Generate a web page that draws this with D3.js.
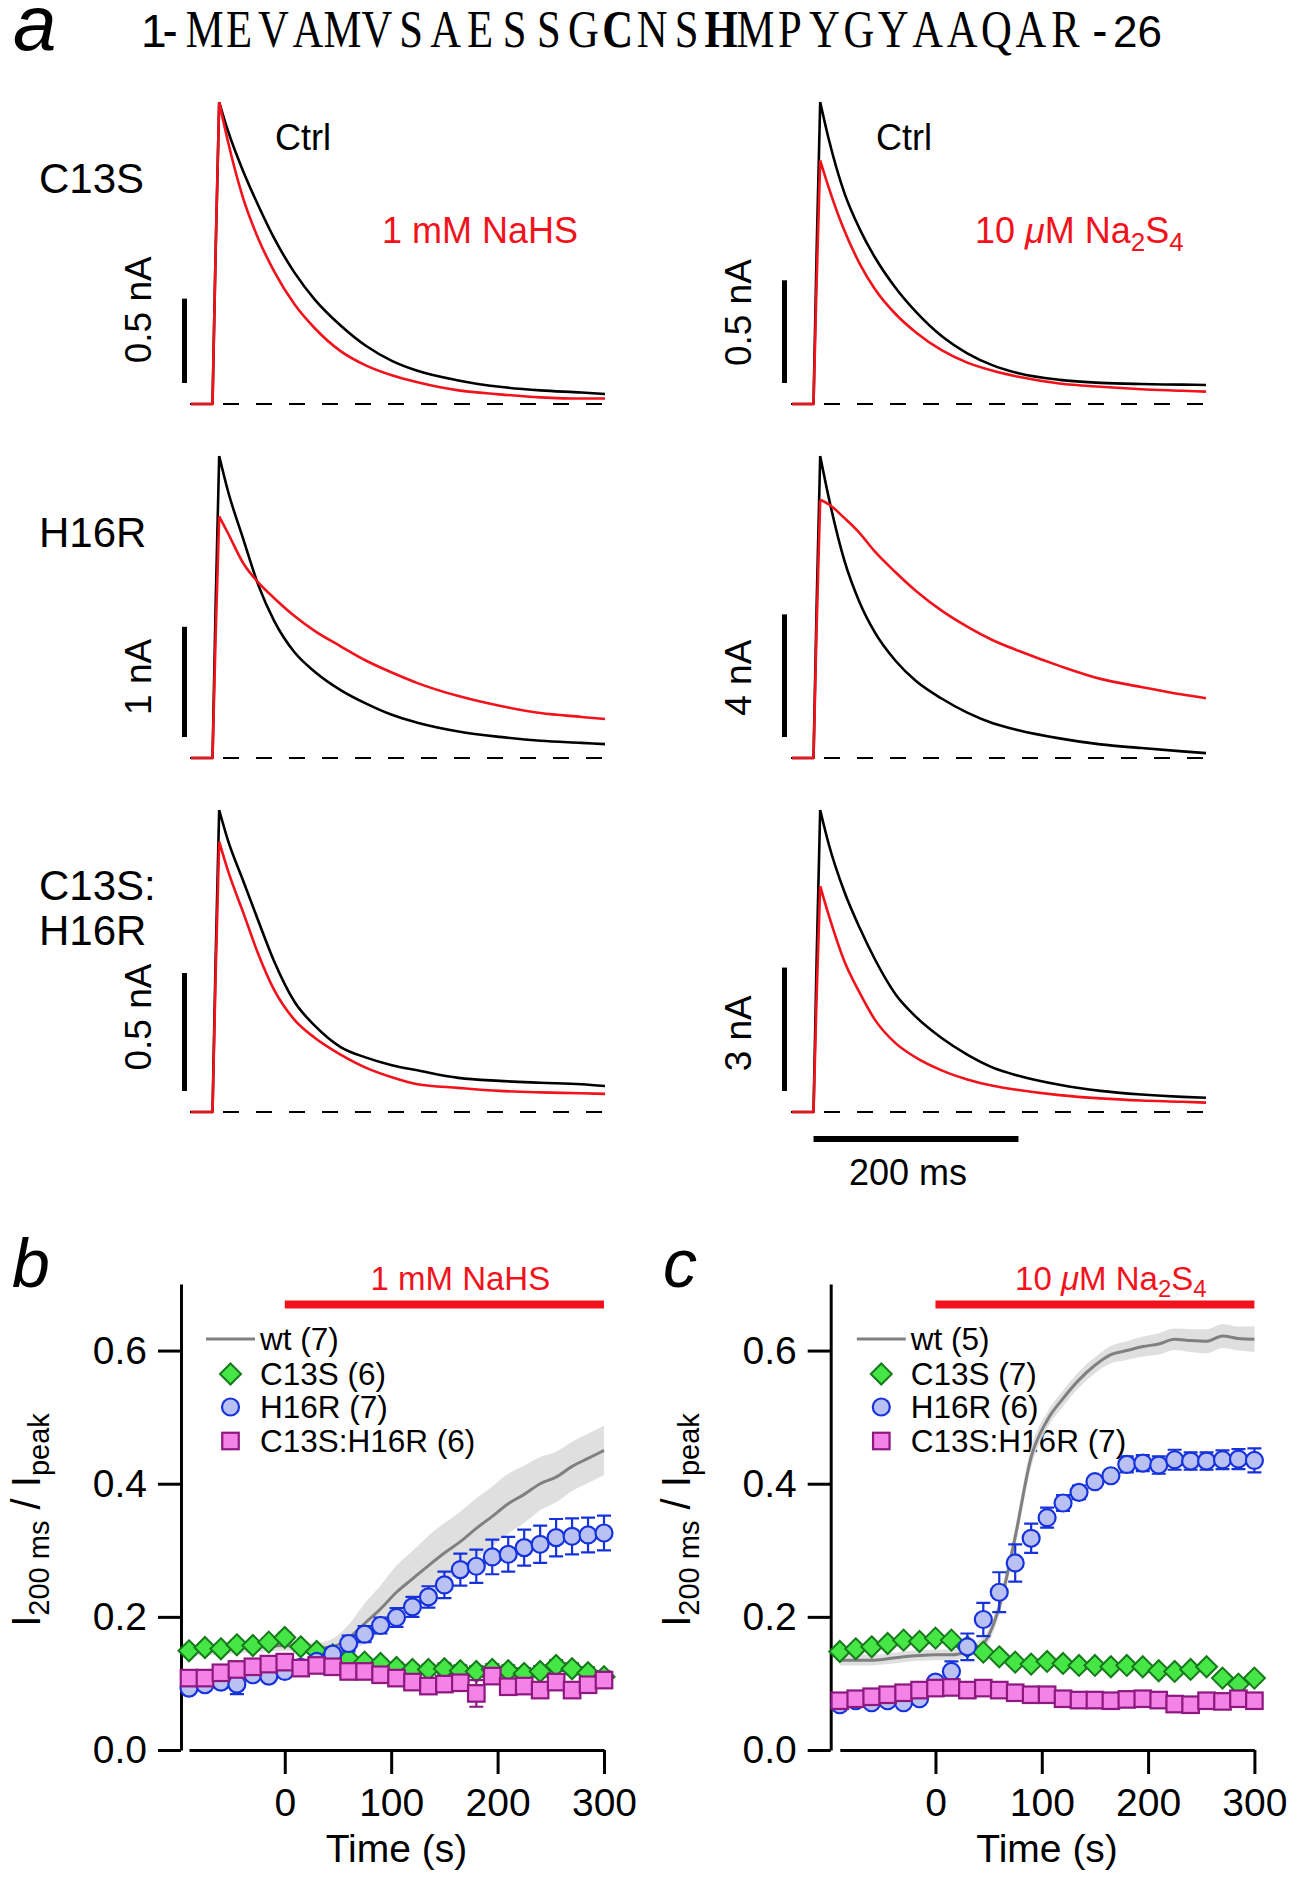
<!DOCTYPE html>
<html>
<head>
<meta charset="utf-8">
<script src="https://cdn.jsdelivr.net/npm/d3@7"></script>
<style>
  body { margin: 0; background: #fff; }
  svg { display: block; font-family: "Liberation Sans", Arial, Helvetica, sans-serif; }
</style>
</head>
<body>
<svg id="fig" width="1294" height="1879"></svg>
<script>
// ---------- panel a : current traces (fraction of control peak) ----------
const traceTimes = [-21, -3, 0, 3, 6.5, 15, 30, 45, 60, 80, 100, 125, 150, 175, 200, 240, 280, 320, 360, 383]; // ms

const c13sCtrlA = [0, 0, 0, 0.5, 1, 0.905, 0.77, 0.655, 0.55, 0.435, 0.345, 0.26, 0.192, 0.143, 0.11, 0.078, 0.057, 0.045, 0.038, 0.033];
const c13sNaHS  = [0, 0, 0, 0.5, 1, 0.87, 0.68, 0.545, 0.44, 0.33, 0.25, 0.175, 0.127, 0.095, 0.072, 0.045, 0.032, 0.022, 0.018, 0.018];
const c13sCtrlB = [0, 0, 0, 0.5, 1, 0.875, 0.70, 0.58, 0.485, 0.385, 0.305, 0.225, 0.168, 0.128, 0.102, 0.08, 0.07, 0.066, 0.064, 0.063];
const c13sNa2S4 = [0, 0, 0, 0.4, 0.807, 0.715, 0.575, 0.465, 0.38, 0.298, 0.237, 0.178, 0.137, 0.11, 0.09, 0.068, 0.057, 0.049, 0.044, 0.041];
const h16rCtrlA = [0, 0, 0, 0.5, 1, 0.885, 0.725, 0.57, 0.455, 0.35, 0.285, 0.225, 0.18, 0.143, 0.117, 0.088, 0.07, 0.057, 0.05, 0.046];
const h16rNaHS  = [0, 0, 0, 0.4, 0.80, 0.745, 0.645, 0.58, 0.53, 0.47, 0.42, 0.37, 0.322, 0.283, 0.248, 0.205, 0.173, 0.149, 0.136, 0.129];
const h16rCtrlB = [0, 0, 0, 0.5, 1, 0.86, 0.655, 0.515, 0.415, 0.322, 0.255, 0.197, 0.15, 0.115, 0.092, 0.065, 0.045, 0.033, 0.022, 0.016];
const h16rNa2S4 = [0, 0, 0, 0.43, 0.855, 0.84, 0.795, 0.745, 0.683, 0.615, 0.553, 0.488, 0.435, 0.39, 0.355, 0.305, 0.262, 0.235, 0.21, 0.198];
const dblCtrlA  = [0, 0, 0, 0.5, 1, 0.90, 0.765, 0.63, 0.50, 0.365, 0.285, 0.215, 0.18, 0.155, 0.138, 0.113, 0.103, 0.097, 0.092, 0.086];
const dblNaHS   = [0, 0, 0, 0.45, 0.895, 0.80, 0.66, 0.52, 0.405, 0.305, 0.245, 0.19, 0.146, 0.115, 0.092, 0.08, 0.07, 0.065, 0.062, 0.06];
const dblCtrlB  = [0, 0, 0, 0.5, 1, 0.885, 0.73, 0.61, 0.505, 0.39, 0.315, 0.245, 0.19, 0.147, 0.12, 0.09, 0.07, 0.058, 0.05, 0.047];
const dblNa2S4  = [0, 0, 0, 0.38, 0.748, 0.65, 0.50, 0.395, 0.305, 0.228, 0.18, 0.138, 0.108, 0.087, 0.073, 0.056, 0.045, 0.038, 0.034, 0.031];

const rowNames = [["C13S"], ["H16R"], ["C13S:", "H16R"]];
const ctrlPeakNA = [[1.79, 1.47], [2.74, 9.85], [1.28, 7.34]];
const scaleBarNA = [[0.5, 0.5], [1, 4], [0.5, 3]];
const scaleBarLabels = [["0.5 nA", "0.5 nA"], ["1 nA", "4 nA"], ["0.5 nA", "3 nA"]];
const timeBarMs = 200;

const seqResidues = "-MEVAMVSAESSGCNSHMPYGYAAQAR-".split("");
const boldResidues = [13, 16];

// ---------- panels b, c : I200ms / Ipeak over time ----------
const timeS = [-90, -75, -60, -45, -30, -15, 0, 15, 30, 45, 60, 75, 90, 105, 120, 135, 150, 165, 180, 195, 210, 225, 240, 255, 270, 285, 300];

const wtB      = [.150, .150, .152, .153, .155, .156, .157, .155, .153, .155, .168, .19, .212, .237, .257, .277, .296, .313, .333, .351, .37, .384, .40, .41, .426, .438, .45];
const wtBSem   = [.008, .008, .008, .008, .008, .008, .008, .008, .008, .012, .02, .03, .035, .04, .042, .045, .045, .045, .045, .045, .045, .043, .04, .038, .037, .037, .037];
const c13sB    = [.149, .154, .152, .158, .157, .162, .169, .155, .148, .143, .137, .132, .13, .124, .121, .121, .122, .119, .118, .121, .119, .115, .118, .127, .122, .116, .11];
const c13sBSem = [.006, .006, .006, .006, .006, .006, .007, .006, .006, .006, .006, .006, .006, .007, .007, .007, .008, .008, .008, .008, .008, .008, .008, .008, .008, .008, .008];
const h16rB    = [.093, .098, .102, .099, .113, .111, .118, .124, .133, .144, .16, .174, .187, .199, .215, .23, .248, .271, .276, .29, .294, .304, .309, .319, .321, .323, .326];
const h16rBSem = [.007, .007, .007, .015, .007, .007, .007, .007, .007, .008, .012, .012, .012, .014, .015, .016, .02, .024, .025, .026, .026, .027, .028, .028, .027, .026, .026];
const dblB     = [.108, .108, .116, .121, .125, .129, .132, .123, .127, .125, .118, .118, .113, .108, .102, .096, .099, .101, .085, .111, .095, .096, .09, .102, .09, .098, .105];
const dblBSem  = [.008, .008, .008, .008, .008, .008, .008, .008, .008, .008, .008, .008, .008, .008, .008, .008, .008, .008, .02, .01, .008, .008, .008, .008, .008, .008, .008];

const wtC      = [.135, .135, .135, .137, .14, .142, .143, .143, .148, .16, .215, .32, .44, .495, .528, .556, .578, .594, .60, .606, .61, .617, .615, .614, .622, .618, .617];
const wtCSem   = [.008, .008, .008, .008, .008, .008, .008, .008, .008, .01, .012, .015, .015, .012, .012, .012, .012, .013, .014, .015, .016, .016, .017, .018, .018, .018, .019];
const c13sC    = [.148, .152, .155, .16, .165, .163, .168, .165, .155, .147, .14, .132, .129, .133, .13, .127, .127, .125, .127, .125, .119, .118, .121, .125, .108, .099, .108];
const c13sCSem = [.005, .005, .005, .005, .005, .005, .005, .005, .005, .005, .005, .005, .005, .005, .005, .005, .005, .005, .005, .005, .005, .005, .005, .005, .006, .006, .006];
const h16rC    = [.068, .074, .071, .074, .071, .077, .102, .118, .155, .196, .237, .281, .318, .349, .371, .387, .403, .412, .429, .431, .428, .436, .434, .434, .436, .437, .435];
const h16rCSem = [.005, .005, .005, .005, .005, .005, .006, .015, .02, .025, .03, .028, .022, .015, .012, .01, .008, .008, .012, .012, .013, .015, .013, .013, .014, .015, .018];
const dblC     = [.074, .077, .08, .083, .086, .09, .093, .094, .09, .093, .09, .086, .083, .083, .077, .075, .075, .074, .076, .077, .075, .069, .068, .074, .073, .077, .074];
const dblCSem  = [.005, .005, .005, .005, .005, .005, .005, .005, .005, .005, .005, .005, .005, .005, .005, .005, .005, .005, .005, .005, .005, .005, .005, .005, .005, .005, .005];

const legendB = ["wt (7)", "C13S (6)", "H16R (7)", "C13S:H16R (6)"];
const legendC = ["wt (5)", "C13S (7)", "H16R (6)", "C13S:H16R (7)"];

// ---------- drawing ----------
const RED = "#f2121b";
const svg = d3.select("#fig");

// header: panel letter + peptide sequence
svg.append("text").attr("x", 13).attr("y", 50)
  .attr("font-size", 78).attr("font-style", "italic").text("a");

svg.append("text").attr("x", 141).attr("y", 47).attr("font-size", 46).text("1");
// residues sit in equal cells, like a typewriter face
const cell = d3.scaleBand().domain(d3.range(seqResidues.length)).range([153, 1117]);
const squeeze = 0.82;
const seq = svg.append("text").attr("y", 47)
  .attr("transform", `scale(${squeeze},1)`)
  .attr("text-anchor", "middle")
  .attr("font-family", '"Liberation Serif", "DejaVu Serif", serif')
  .attr("font-size", 52);
seq.selectAll("tspan").data(seqResidues).join("tspan")
  .attr("x", (d, i) => (cell(i) + cell.bandwidth() / 2) / squeeze)
  .attr("font-weight", (d, i) => boldResidues.includes(i) ? "bold" : null)
  .text(d => d);
svg.append("text").attr("x", 1113).attr("y", 47).attr("font-size", 44).text("26");

// trace panels
const ctrlTraces = [[c13sCtrlA, c13sCtrlB], [h16rCtrlA, h16rCtrlB], [dblCtrlA, dblCtrlB]];
const drugTraces = [[c13sNaHS, c13sNa2S4], [h16rNaHS, h16rNa2S4], [dblNaHS, dblNa2S4]];
const colX = [[191, 605], [792, 1206]];
const barX = [184.5, 784.5];
const barLabelX = [151, 751];
const rowBase = [404, 758, 1112];
const traceH = 302;
const barLabelDy = [[-31, -19], [-5, 2], [-15, 4]];

// rise drawn straight, decay smoothed from the peak on
function tracePath(x, y, peak, vals) {
  const pts = traceTimes.map((t, i) => [x(t), y(vals[i] * peak)]);
  const k = d3.maxIndex(vals);
  return d3.line()(pts.slice(0, k + 1)) + d3.line().curve(d3.curveMonotoneX)(pts.slice(k));
}

rowNames.forEach((names, r) => {
  const rl = svg.append("text").attr("font-size", 42);
  names.forEach((n, k) => rl.append("tspan").attr("x", 39).attr("y", (r === 2 ? 900 : [193, 547][r]) + k * 45).text(n));

  [0, 1].forEach(c => {
    const peak = ctrlPeakNA[r][c];
    const x = d3.scaleLinear().domain([traceTimes[0], traceTimes[traceTimes.length - 1]]).range(colX[c]);
    const y = d3.scaleLinear().domain([0, peak]).range([rowBase[r], rowBase[r] - traceH]);
    const g = svg.append("g");

    g.append("line")
      .attr("x1", x.range()[0] - 1).attr("x2", x.range()[1])
      .attr("y1", y(0)).attr("y2", y(0))
      .attr("stroke", "#000").attr("stroke-width", 2).attr("stroke-dasharray", "16,17");

    g.append("path").attr("d", tracePath(x, y, peak, ctrlTraces[r][c]))
      .attr("fill", "none").attr("stroke", "#000").attr("stroke-width", 2.6).attr("stroke-linejoin", "round");
    g.append("path").attr("d", tracePath(x, y, peak, drugTraces[r][c]))
      .attr("fill", "none").attr("stroke", RED).attr("stroke-width", 2.6).attr("stroke-linejoin", "round");

    // vertical scale bar
    const barLen = y(0) - y(scaleBarNA[r][c]);
    const bBottom = y(0) - 21;
    g.append("line")
      .attr("x1", barX[c]).attr("x2", barX[c])
      .attr("y1", bBottom).attr("y2", bBottom - barLen)
      .attr("stroke", "#000").attr("stroke-width", 5);
    g.append("text")
      .attr("transform", `translate(${barLabelX[c]},${bBottom - barLen / 2 + barLabelDy[r][c]}) rotate(-90)`)
      .attr("text-anchor", "middle").attr("font-size", 37)
      .text(scaleBarLabels[r][c]);

    if (r === 0) {
      g.append("text").attr("x", colX[c][0] + 84).attr("y", 150).attr("font-size", 36).text("Ctrl");
      const dl = g.append("text").attr("x", colX[c][0] + (c === 0 ? 191 : 183)).attr("y", 243)
        .attr("font-size", 36).attr("fill", RED);
      if (c === 0) {
        dl.text("1 mM NaHS");
      } else {
        dl.append("tspan").text("10 ");
        dl.append("tspan").attr("font-style", "italic").text("\u03bc");
        dl.append("tspan").text("M Na");
        dl.append("tspan").attr("font-size", 26).attr("dy", 8).text("2");
        dl.append("tspan").attr("dy", -8).text("S");
        dl.append("tspan").attr("font-size", 26).attr("dy", 8).text("4");
      }
    }

    if (r === 2 && c === 1) {
      g.append("line")
        .attr("x1", x(0)).attr("x2", x(timeBarMs))
        .attr("y1", 1139).attr("y2", 1139)
        .attr("stroke", "#000").attr("stroke-width", 6);
      g.append("text").attr("x", (x(0) + x(timeBarMs)) / 2 - 8).attr("y", 1185)
        .attr("text-anchor", "middle").attr("font-size", 36).text(timeBarMs + " ms");
    }
  });
});

// summary panels
const series = [
  { key: "b", x0: 189, x1: 604, axisX: 181, letterX: 12, yLabX: 40,
    drug: "NaHS", wt: wtB, wtSem: wtBSem, c13s: c13sB, c13sSem: c13sBSem,
    h16r: h16rB, h16rSem: h16rBSem, dbl: dblB, dblSem: dblBSem, legend: legendB },
  { key: "c", x0: 839.8, x1: 1254.4, axisX: 830.7, letterX: 663, yLabX: 690,
    drug: "Na2S4", wt: wtC, wtSem: wtCSem, c13s: c13sC, c13sSem: c13sCSem,
    h16r: h16rC, h16rSem: h16rCSem, dbl: dblC, dblSem: dblCSem, legend: legendC }
];

const STY = {
  c13s: { fill: "#45e645", stroke: "#167a1c", shape: "diamond" },
  h16r: { fill: "#b9c0f2", stroke: "#1632dc", shape: "circle" },
  dbl:  { fill: "#f383e6", stroke: "#8e1780", shape: "square" }
};

function drawMarker(g, shape, cx, cy, sty) {
  if (shape === "diamond") {
    const h = 10.5;
    g.append("path").attr("d", `M${cx},${cy - h}L${cx + h},${cy}L${cx},${cy + h}L${cx - h},${cy}Z`)
      .attr("fill", sty.fill).attr("stroke", sty.stroke).attr("stroke-width", 2);
  } else if (shape === "circle") {
    g.append("circle").attr("cx", cx).attr("cy", cy).attr("r", 8.5)
      .attr("fill", sty.fill).attr("stroke", sty.stroke).attr("stroke-width", 2.2);
  } else {
    const s = 16.5;
    g.append("rect").attr("x", cx - s / 2).attr("y", cy - s / 2).attr("width", s).attr("height", s)
      .attr("fill", sty.fill).attr("stroke", sty.stroke).attr("stroke-width", 2.2);
  }
}

series.forEach(p => {
  const g = svg.append("g");
  const x = d3.scaleLinear().domain([-90, 300]).range([p.x0, p.x1]);
  const y = d3.scaleLinear().domain([0, 0.7]).range([1750, 1284]);

  g.append("text").attr("x", p.letterX).attr("y", 1287)
    .attr("font-size", 68).attr("font-style", "italic").text(p.key);

  // axes
  const yAx = g.append("g").attr("transform", `translate(${p.axisX},0)`)
    .call(d3.axisLeft(y).tickValues([0, 0.2, 0.4, 0.6]).tickFormat(d3.format(".1f"))
      .tickSizeInner(23).tickSizeOuter(0).tickPadding(11));
  const xAx = g.append("g").attr("transform", `translate(0,${y(0)})`)
    .call(d3.axisBottom(x).tickValues([0, 100, 200, 300])
      .tickSizeInner(24).tickSizeOuter(0).tickPadding(14));
  [yAx, xAx].forEach(a => {
    a.select(".domain").attr("stroke-width", 3);
    a.selectAll(".tick line").attr("stroke-width", 3);
    a.selectAll(".tick text").attr("font-size", 39)
      .attr("font-family", '"Liberation Sans", Arial, sans-serif').attr("fill", "#000");
  });

  g.append("text").attr("x", (p.x0 + p.x1) / 2).attr("y", 1862)
    .attr("text-anchor", "middle").attr("font-size", 39).text("Time (s)");

  const yl = g.append("text").attr("transform", `translate(${p.yLabX},1520) rotate(-90)`)
    .attr("text-anchor", "middle").attr("font-size", 40);
  yl.append("tspan").text("I");
  yl.append("tspan").attr("font-size", 29).attr("dy", 9).text("200 ms");
  yl.append("tspan").attr("dy", -9).text(" / I");
  yl.append("tspan").attr("font-size", 29).attr("dy", 9).text("peak");

  // application bar
  g.append("line").attr("x1", x(0)).attr("x2", x(300)).attr("y1", 1304.5).attr("y2", 1304.5)
    .attr("stroke", RED).attr("stroke-width", 8);
  const bl = g.append("text").attr("x", x(165)).attr("y", 1290)
    .attr("text-anchor", "middle").attr("font-size", 33).attr("fill", RED);
  if (p.drug === "NaHS") {
    bl.text("1 mM NaHS");
  } else {
    bl.append("tspan").text("10 ");
    bl.append("tspan").attr("font-style", "italic").text("\u03bc");
    bl.append("tspan").text("M Na");
    bl.append("tspan").attr("font-size", 24).attr("dy", 7).text("2");
    bl.append("tspan").attr("dy", -7).text("S");
    bl.append("tspan").attr("font-size", 24).attr("dy", 7).text("4");
  }

  // legend
  const legY = [1339, 1374, 1407, 1441];
  const mx = p.x0 + 41.5;
  g.append("line").attr("x1", p.x0 + 17).attr("x2", p.x0 + 66).attr("y1", legY[0]).attr("y2", legY[0])
    .attr("stroke", "#808080").attr("stroke-width", 3);
  ["c13s", "h16r", "dbl"].forEach((k, i) => drawMarker(g, STY[k].shape, mx, legY[i + 1], STY[k]));
  p.legend.forEach((t, i) => {
    g.append("text").attr("x", p.x0 + 71).attr("y", legY[i]).attr("dy", "0.36em")
      .attr("font-size", 31.5).text(t);
  });

  // wt mean +/- sem band and line
  const wtData = timeS.map((t, i) => ({ t, v: p.wt[i], s: p.wtSem[i] }));
  g.append("path").datum(wtData)
    .attr("d", d3.area().x(d => x(d.t)).y0(d => y(d.v - d.s)).y1(d => y(d.v + d.s)).curve(d3.curveMonotoneX))
    .attr("fill", "#dcdcdc").attr("opacity", 0.9);
  g.append("path").datum(wtData)
    .attr("d", d3.line().x(d => x(d.t)).y(d => y(d.v)).curve(d3.curveMonotoneX))
    .attr("fill", "none").attr("stroke", "#808080").attr("stroke-width", 3);

  // marker series with error bars
  ["c13s", "h16r", "dbl"].forEach(k => {
    const sty = STY[k];
    const vals = p[k], sems = p[k + "Sem"];
    const sg = g.append("g");
    timeS.forEach((t, i) => {
      const cx = x(t), lo = y(vals[i] - sems[i]), hi = y(vals[i] + sems[i]);
      sg.append("path")
        .attr("d", `M${cx},${lo}V${hi}M${cx - 7},${lo}H${cx + 7}M${cx - 7},${hi}H${cx + 7}`)
        .attr("stroke", sty.stroke).attr("stroke-width", 2.2).attr("fill", "none");
    });
    timeS.forEach((t, i) => drawMarker(sg, sty.shape, x(t), y(vals[i]), sty));
  });
});
</script>
</body>
</html>
